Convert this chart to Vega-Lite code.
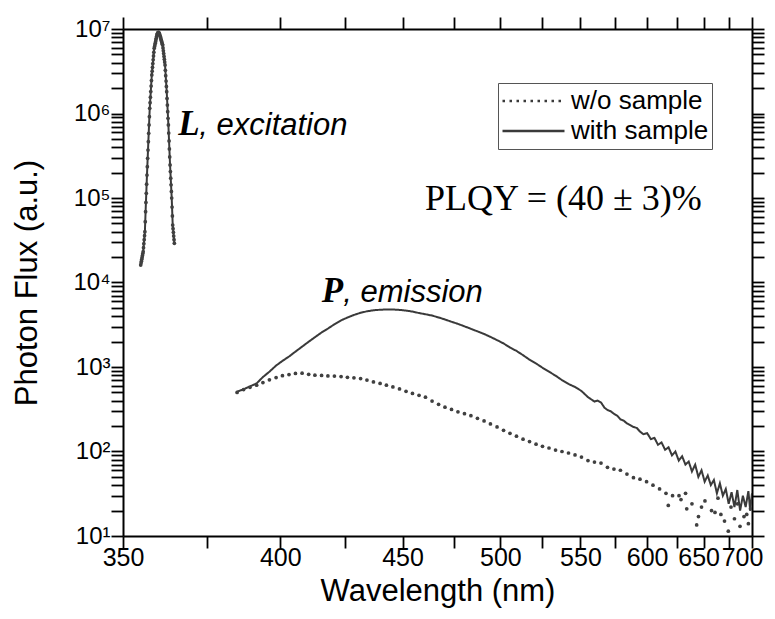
{
  "$schema": "https://vega.github.io/schema/vega-lite/v6.json",
  "width": 629,
  "height": 507,
  "autosize": {"type": "none"},
  "padding": {"left": 123, "top": 29, "right": 23, "bottom": 83},
  "background": "white",
  "config": {
    "view": {"stroke": null},
    "axis": {"grid": false, "domainColor": "black", "domainWidth": 2, "tickColor": "black", "tickWidth": 1.8, "labelFont": "Liberation Sans", "titleFont": "Liberation Sans", "labelColor": "black", "titleColor": "black", "titleFontWeight": "normal"}
  },
  "datasets": {
    "withs": [
      {"g":"exc","l":355.0,"f":16100},{"g":"exc","l":355.1,"f":17000},{"g":"exc","l":355.2,"f":17860},{"g":"exc","l":355.3,"f":18840},{"g":"exc","l":355.4,"f":19820},{"g":"exc","l":355.5,"f":20890},{"g":"exc","l":355.6,"f":21980},{"g":"exc","l":355.7,"f":23170},{"g":"exc","l":355.8,"f":25820},{"g":"exc","l":355.9,"f":28770},{"g":"exc","l":356.0,"f":32140},{"g":"exc","l":356.1,"f":35810},{"g":"exc","l":356.2,"f":39900},{"g":"exc","l":356.3,"f":52480},{"g":"exc","l":356.4,"f":68870},{"g":"exc","l":356.5,"f":88510},{"g":"exc","l":356.6,"f":113500},{"g":"exc","l":356.7,"f":145900},{"g":"exc","l":356.8,"f":187100},{"g":"exc","l":356.9,"f":235000},{"g":"exc","l":357.0,"f":295100},{"g":"exc","l":357.1,"f":369800},{"g":"exc","l":357.2,"f":464500},{"g":"exc","l":357.3,"f":583400},{"g":"exc","l":357.4,"f":731100},{"g":"exc","l":357.5,"f":918300},{"g":"exc","l":357.6,"f":1153000},{"g":"exc","l":357.7,"f":1343000},{"g":"exc","l":357.8,"f":1560000},{"g":"exc","l":357.9,"f":1816000},{"g":"exc","l":358.0,"f":2113000},{"g":"exc","l":358.1,"f":2455000},{"g":"exc","l":358.2,"f":2858000},{"g":"exc","l":358.3,"f":3170000},{"g":"exc","l":358.4,"f":3516000},{"g":"exc","l":358.5,"f":3899000},{"g":"exc","l":358.6,"f":4325000},{"g":"exc","l":358.7,"f":4797000},{"g":"exc","l":358.8,"f":5321000},{"g":"exc","l":358.9,"f":5902000},{"g":"exc","l":359.0,"f":6166000},{"g":"exc","l":359.1,"f":6457000},{"g":"exc","l":359.2,"f":6761000},{"g":"exc","l":359.3,"f":7079000},{"g":"exc","l":359.4,"f":7413000},{"g":"exc","l":359.5,"f":7762000},{"g":"exc","l":359.6,"f":8128000},{"g":"exc","l":359.7,"f":8511000},{"g":"exc","l":359.8,"f":8710000},{"g":"exc","l":359.9,"f":8913000},{"g":"exc","l":360.0,"f":9016000},{"g":"exc","l":360.1,"f":9120000},{"g":"exc","l":360.2,"f":9120000},{"g":"exc","l":360.3,"f":9016000},{"g":"exc","l":360.4,"f":8810000},{"g":"exc","l":360.5,"f":8610000},{"g":"exc","l":360.6,"f":8318000},{"g":"exc","l":360.7,"f":8128000},{"g":"exc","l":360.8,"f":7852000},{"g":"exc","l":360.9,"f":7586000},{"g":"exc","l":361.0,"f":7328000},{"g":"exc","l":361.1,"f":7079000},{"g":"exc","l":361.2,"f":6839000},{"g":"exc","l":361.3,"f":6607000},{"g":"exc","l":361.4,"f":6457000},{"g":"exc","l":361.5,"f":5970000},{"g":"exc","l":361.6,"f":5521000},{"g":"exc","l":361.7,"f":5117000},{"g":"exc","l":361.8,"f":4732000},{"g":"exc","l":361.9,"f":4375000},{"g":"exc","l":362.0,"f":4055000},{"g":"exc","l":362.1,"f":3750000},{"g":"exc","l":362.2,"f":3243000},{"g":"exc","l":362.3,"f":2799000},{"g":"exc","l":362.4,"f":2421000},{"g":"exc","l":362.5,"f":2094000},{"g":"exc","l":362.6,"f":1811000},{"g":"exc","l":362.7,"f":1510000},{"g":"exc","l":362.8,"f":1259000},{"g":"exc","l":362.9,"f":1052000},{"g":"exc","l":363.0,"f":877000},{"g":"exc","l":363.1,"f":731100},{"g":"exc","l":363.2,"f":587500},{"g":"exc","l":363.3,"f":473200},{"g":"exc","l":363.4,"f":380200},{"g":"exc","l":363.5,"f":306200},{"g":"exc","l":363.6,"f":246000},{"g":"exc","l":363.7,"f":205600},{"g":"exc","l":363.8,"f":171800},{"g":"exc","l":363.9,"f":143200},{"g":"exc","l":364.0,"f":119700},{"g":"exc","l":364.1,"f":100000},{"g":"exc","l":364.2,"f":78160},{"g":"exc","l":364.3,"f":61240},{"g":"exc","l":364.4,"f":47860},{"g":"exc","l":364.5,"f":43350},{"g":"exc","l":364.6,"f":39260},{"g":"exc","l":364.7,"f":35480},{"g":"exc","l":364.8,"f":32140},{"g":"exc","l":364.9,"f":29110},
      {"g":"em","l":384.9,"f":510},{"g":"em","l":387.1,"f":545},{"g":"em","l":389.3,"f":590},{"g":"em","l":391.6,"f":640},{"g":"em","l":393.8,"f":760},{"g":"em","l":396.1,"f":880},{"g":"em","l":398.5,"f":1040},{"g":"em","l":400.8,"f":1180},{"g":"em","l":403.2,"f":1330},{"g":"em","l":405.6,"f":1520},{"g":"em","l":408.1,"f":1740},{"g":"em","l":410.6,"f":1990},{"g":"em","l":413.0,"f":2250},{"g":"em","l":415.6,"f":2560},{"g":"em","l":418.1,"f":2850},{"g":"em","l":420.7,"f":3200},{"g":"em","l":423.4,"f":3560},{"g":"em","l":426.0,"f":3850},{"g":"em","l":428.7,"f":4130},{"g":"em","l":431.5,"f":4380},{"g":"em","l":434.2,"f":4560},{"g":"em","l":437.0,"f":4690},{"g":"em","l":439.9,"f":4760},{"g":"em","l":442.7,"f":4800},{"g":"em","l":445.6,"f":4790},{"g":"em","l":448.6,"f":4740},{"g":"em","l":451.6,"f":4650},{"g":"em","l":454.6,"f":4530},{"g":"em","l":457.7,"f":4350},{"g":"em","l":460.8,"f":4210},{"g":"em","l":464.0,"f":4060},{"g":"em","l":467.2,"f":3860},{"g":"em","l":470.4,"f":3650},{"g":"em","l":473.7,"f":3430},{"g":"em","l":477.0,"f":3240},{"g":"em","l":480.4,"f":3030},{"g":"em","l":483.8,"f":2830},{"g":"em","l":487.3,"f":2640},{"g":"em","l":490.9,"f":2460},{"g":"em","l":494.4,"f":2270},{"g":"em","l":498.1,"f":2080},{"g":"em","l":501.8,"f":1900},{"g":"em","l":505.5,"f":1700},{"g":"em","l":509.3,"f":1550},{"g":"em","l":513.2,"f":1380},{"g":"em","l":517.1,"f":1220},{"g":"em","l":521.1,"f":1100},{"g":"em","l":525.1,"f":980},{"g":"em","l":529.2,"f":880},{"g":"em","l":533.4,"f":790},{"g":"em","l":537.6,"f":700},{"g":"em","l":541.9,"f":630},{"g":"em","l":546.3,"f":580},{"g":"em","l":550.7,"f":520},{"g":"em","l":555.2,"f":440},{"g":"em","l":559.8,"f":390},{"g":"em","l":562.0,"f":400},{"g":"em","l":564.5,"f":380},{"g":"em","l":567.0,"f":330},{"g":"em","l":569.2,"f":310},{"g":"em","l":571.5,"f":300},{"g":"em","l":574.0,"f":280},{"g":"em","l":576.5,"f":265},{"g":"em","l":578.9,"f":240},{"g":"em","l":581.4,"f":232},{"g":"em","l":583.9,"f":215},{"g":"em","l":586.5,"f":205},{"g":"em","l":589.0,"f":195},{"g":"em","l":591.6,"f":190},{"g":"em","l":594.2,"f":172},{"g":"em","l":597,"f":160},{"g":"em","l":600,"f":165},{"g":"em","l":603,"f":140},{"g":"em","l":606,"f":145},{"g":"em","l":609,"f":120},{"g":"em","l":612,"f":128},{"g":"em","l":615,"f":105},{"g":"em","l":618,"f":112},{"g":"em","l":621,"f":90},{"g":"em","l":624,"f":100},{"g":"em","l":627,"f":78},{"g":"em","l":630,"f":88},{"g":"em","l":633,"f":70},{"g":"em","l":636,"f":76},{"g":"em","l":639,"f":58},{"g":"em","l":642,"f":70},{"g":"em","l":645,"f":50},{"g":"em","l":648,"f":60},{"g":"em","l":651,"f":44},{"g":"em","l":654,"f":52},{"g":"em","l":657,"f":40},{"g":"em","l":660,"f":46},{"g":"em","l":663,"f":32},{"g":"em","l":666,"f":42},{"g":"em","l":669,"f":30},{"g":"em","l":672,"f":36},{"g":"em","l":675,"f":24},{"g":"em","l":678,"f":33},{"g":"em","l":681,"f":22},{"g":"em","l":684,"f":35},{"g":"em","l":687,"f":20},{"g":"em","l":690,"f":30},{"g":"em","l":693,"f":22},{"g":"em","l":696,"f":34},{"g":"em","l":698,"f":20},{"g":"em","l":700,"f":32}
    ],
    "wo": [
      {"l":355.0,"f":16100},{"l":355.1,"f":17000},{"l":355.2,"f":17860},{"l":355.3,"f":18840},{"l":355.4,"f":19820},{"l":355.5,"f":20890},{"l":355.6,"f":21980},{"l":355.7,"f":23170},{"l":355.8,"f":25820},{"l":355.9,"f":28770},{"l":356.0,"f":32140},{"l":356.1,"f":35810},{"l":356.2,"f":39900},{"l":356.3,"f":52480},{"l":356.4,"f":68870},{"l":356.5,"f":88510},{"l":356.6,"f":113500},{"l":356.7,"f":145900},{"l":356.8,"f":187100},{"l":356.9,"f":235000},{"l":357.0,"f":295100},{"l":357.1,"f":369800},{"l":357.2,"f":464500},{"l":357.3,"f":583400},{"l":357.4,"f":731100},{"l":357.5,"f":918300},{"l":357.6,"f":1153000},{"l":357.7,"f":1343000},{"l":357.8,"f":1560000},{"l":357.9,"f":1816000},{"l":358.0,"f":2113000},{"l":358.1,"f":2455000},{"l":358.2,"f":2858000},{"l":358.3,"f":3170000},{"l":358.4,"f":3516000},{"l":358.5,"f":3899000},{"l":358.6,"f":4325000},{"l":358.7,"f":4797000},{"l":358.8,"f":5321000},{"l":358.9,"f":5902000},{"l":359.0,"f":6166000},{"l":359.1,"f":6457000},{"l":359.2,"f":6761000},{"l":359.3,"f":7079000},{"l":359.4,"f":7413000},{"l":359.5,"f":7762000},{"l":359.6,"f":8128000},{"l":359.7,"f":8511000},{"l":359.8,"f":8710000},{"l":359.9,"f":8913000},{"l":360.0,"f":9016000},{"l":360.1,"f":9120000},{"l":360.2,"f":9120000},{"l":360.3,"f":9016000},{"l":360.4,"f":8810000},{"l":360.5,"f":8610000},{"l":360.6,"f":8318000},{"l":360.7,"f":8128000},{"l":360.8,"f":7852000},{"l":360.9,"f":7586000},{"l":361.0,"f":7328000},{"l":361.1,"f":7079000},{"l":361.2,"f":6839000},{"l":361.3,"f":6607000},{"l":361.4,"f":6457000},{"l":361.5,"f":5970000},{"l":361.6,"f":5521000},{"l":361.7,"f":5117000},{"l":361.8,"f":4732000},{"l":361.9,"f":4375000},{"l":362.0,"f":4055000},{"l":362.1,"f":3750000},{"l":362.2,"f":3243000},{"l":362.3,"f":2799000},{"l":362.4,"f":2421000},{"l":362.5,"f":2094000},{"l":362.6,"f":1811000},{"l":362.7,"f":1510000},{"l":362.8,"f":1259000},{"l":362.9,"f":1052000},{"l":363.0,"f":877000},{"l":363.1,"f":731100},{"l":363.2,"f":587500},{"l":363.3,"f":473200},{"l":363.4,"f":380200},{"l":363.5,"f":306200},{"l":363.6,"f":246000},{"l":363.7,"f":205600},{"l":363.8,"f":171800},{"l":363.9,"f":143200},{"l":364.0,"f":119700},{"l":364.1,"f":100000},{"l":364.2,"f":78160},{"l":364.3,"f":61240},{"l":364.4,"f":47860},{"l":364.5,"f":43350},{"l":364.6,"f":39260},{"l":364.7,"f":35480},{"l":364.8,"f":32140},{"l":364.9,"f":29110},
      {"l":384.9,"f":500},{"l":387.1,"f":540},{"l":389.3,"f":575},{"l":391.6,"f":610},{"l":393.8,"f":655},{"l":396.1,"f":705},{"l":398.5,"f":750},{"l":400.8,"f":790},{"l":403.2,"f":815},{"l":405.6,"f":840},{"l":408.1,"f":845},{"l":410.6,"f":820},{"l":413.0,"f":800},{"l":415.6,"f":795},{"l":418.1,"f":785},{"l":420.7,"f":780},{"l":423.4,"f":770},{"l":426.0,"f":755},{"l":428.7,"f":745},{"l":431.5,"f":730},{"l":434.2,"f":700},{"l":437.0,"f":665},{"l":439.9,"f":640},{"l":442.7,"f":610},{"l":445.6,"f":580},{"l":448.6,"f":550},{"l":451.6,"f":515},{"l":454.6,"f":487},{"l":457.7,"f":462},{"l":460.8,"f":440},{"l":464.0,"f":395},{"l":467.2,"f":362},{"l":470.4,"f":335},{"l":473.7,"f":315},{"l":477.0,"f":295},{"l":480.4,"f":280},{"l":483.8,"f":265},{"l":487.3,"f":247},{"l":490.9,"f":230},{"l":494.4,"f":212},{"l":498.1,"f":195},{"l":501.8,"f":178},{"l":505.5,"f":164},{"l":509.3,"f":152},{"l":513.2,"f":140},{"l":517.1,"f":131},{"l":521.1,"f":122},{"l":525.1,"f":115},{"l":529.2,"f":110},{"l":533.4,"f":104},{"l":537.6,"f":100},{"l":541.9,"f":96},{"l":546.3,"f":91},{"l":550.7,"f":86},{"l":555.2,"f":78},{"l":559.8,"f":75},{"l":564.5,"f":73},{"l":569.2,"f":65},{"l":574.0,"f":62},{"l":578.9,"f":60},{"l":583.9,"f":54},{"l":589.0,"f":49},{"l":594.2,"f":47},{"l":599.5,"f":44},{"l":604.8,"f":40},{"l":610.3,"f":36},{"l":615.8,"f":32},{"l":621.5,"f":30},{"l":627.2,"f":30},{"l":633.1,"f":32},{"l":639.0,"f":24},{"l":645.1,"f":17},{"l":651.3,"f":26},{"l":657.7,"f":20},{"l":664.1,"f":28},{"l":670.7,"f":15},{"l":677.4,"f":22},{"l":684.2,"f":24},{"l":691.2,"f":17},{"l":698.3,"f":21},
      {"l":617.8,"f":23},{"l":634.2,"f":21},{"l":643.4,"f":13.5},{"l":661.1,"f":19},{"l":674.6,"f":11.4},{"l":686.9,"f":13},{"l":694.2,"f":18},{"l":629.0,"f":27},{"l":648.0,"f":22},{"l":667.0,"f":18},{"l":681.0,"f":16},{"l":696.0,"f":14}
    ],
    "bold": [{"t":"L","l":366.1,"f":556700},{"t":"P","l":415.7,"f":5930}],
    "ital": [{"t":", excitation","l":372.6,"f":556700},{"t":", emission","l":424.3,"f":5930}],
    "plqy": [{"t":"PLQY = (40 ± 3)%","l":460.6,"f":72100}]
  },
  "layer": [
    {
      "data": {"name": "withs"},
      "mark": {"type": "line", "color": "#3a3a3a", "strokeWidth": 2, "clip": true},
      "encoding": {
        "x": {"field": "l", "type": "quantitative",
          "scale": {"type": "pow", "exponent": -1, "domain": [350, 700], "zero": false, "nice": false},
          "axis": {"values": [350,375,400,425,450,475,500,525,550,575,600,625,650,675,700],
            "labelExpr": "datum.value % 50 === 0 ? datum.label : ''",
            "tickSize": 12, "labelPadding": -3, "labelFontSize": 25, "labelFlush": false, "labelOverlap": false,
            "labelOffset": {"condition": [{"test": "datum.value === 700", "value": -10}, {"test": "datum.value === 650", "value": -5}], "value": 0},
            "title": "Wavelength (nm)", "titleFontSize": 31, "titleBaseline": "alphabetic", "titleY": 64,
            "encode": {"ticks": {"update": {"y2": {"signal": "datum.value % 50 === 0 ? -12 : -6"}}}}}
        },
        "y": {"field": "f", "type": "quantitative",
          "scale": {"type": "log", "domain": [10, 10000000], "nice": false},
          "axis": {"values": [10,20,30,40,50,60,70,80,90,100,200,300,400,500,600,700,800,900,1000,2000,3000,4000,5000,6000,7000,8000,9000,10000,20000,30000,40000,50000,60000,70000,80000,90000,100000,200000,300000,400000,500000,600000,700000,800000,900000,1000000,2000000,3000000,4000000,5000000,6000000,7000000,8000000,9000000,10000000],
            "labelExpr": "abs(log(datum.value)/LN10 - round(log(datum.value)/LN10)) < 0.001 ? '10' + ['⁰','¹','²','³','⁴','⁵','⁶','⁷'][round(log(datum.value)/LN10)] : ''",
            "tickSize": 12, "labelPadding": 1, "labelFontSize": 24, "labelOverlap": false, "labelFlush": false,
            "title": "Photon Flux (a.u.)", "titleFontSize": 31, "titleX": -80,
            "encode": {"ticks": {"update": {"x2": {"signal": "abs(log(datum.value)/LN10 - round(log(datum.value)/LN10)) < 0.001 ? 12 : 6"}}}}}
        },
        "detail": {"field": "g"},
        "strokeDash": {"datum": "with sample", "type": "nominal",
          "scale": {"domain": ["w/o sample", "with sample"], "range": [[2.5, 4.5], [1, 0]]},
          "legend": {"title": null, "orient": "none", "legendX": 375, "legendY": 54, "direction": "vertical",
            "strokeColor": "#555555", "fillColor": "white", "padding": 3, "clipHeight": 30, "rowPadding": 0,
            "symbolType": "stroke", "symbolSize": 3844, "symbolStrokeWidth": 2.5, "symbolStrokeColor": "#3a3a3a",
            "labelFont": "Liberation Sans", "labelFontSize": 26, "labelColor": "black", "labelOffset": 5, "labelLimit": 300}
        }
      }
    },
    {
      "data": {"name": "wo"},
      "mark": {"type": "circle", "size": 14, "color": "#404040", "opacity": 1, "clip": true},
      "encoding": {
        "x": {"field": "l", "type": "quantitative",
          "scale": {"type": "pow", "exponent": -1, "domain": [350, 700], "zero": false, "nice": false},
          "axis": {"orient": "top", "values": [350,375,400,425,450,475,500,525,550,575,600,625,650,675,700], "labels": false, "title": null, "tickSize": 12,
            "encode": {"ticks": {"update": {"y2": {"signal": "datum.value % 50 === 0 ? 12 : 6"}}}}}
        },
        "y": {"field": "f", "type": "quantitative",
          "scale": {"type": "log", "domain": [10, 10000000], "nice": false},
          "axis": {"orient": "right", "values": [10,20,30,40,50,60,70,80,90,100,200,300,400,500,600,700,800,900,1000,2000,3000,4000,5000,6000,7000,8000,9000,10000,20000,30000,40000,50000,60000,70000,80000,90000,100000,200000,300000,400000,500000,600000,700000,800000,900000,1000000,2000000,3000000,4000000,5000000,6000000,7000000,8000000,9000000,10000000],
            "labels": false, "title": null, "tickSize": 12,
            "encode": {"ticks": {"update": {"x2": {"signal": "abs(log(datum.value)/LN10 - round(log(datum.value)/LN10)) < 0.001 ? -12 : -6"}}}}}
        }
      }
    },
    {
      "data": {"name": "bold"},
      "mark": {"type": "text", "font": "Liberation Serif", "fontStyle": "italic", "fontWeight": "bold", "fontSize": 35, "align": "left", "baseline": "alphabetic", "color": "black"},
      "encoding": {
        "x": {"field": "l", "type": "quantitative", "scale": {"type": "pow", "exponent": -1, "domain": [350, 700], "zero": false, "nice": false}, "axis": null},
        "y": {"field": "f", "type": "quantitative", "scale": {"type": "log", "domain": [10, 10000000], "nice": false}, "axis": null},
        "text": {"field": "t"}
      }
    },
    {
      "data": {"name": "ital"},
      "mark": {"type": "text", "font": "Liberation Sans", "fontStyle": "italic", "fontSize": 31, "align": "left", "baseline": "alphabetic", "color": "black"},
      "encoding": {
        "x": {"field": "l", "type": "quantitative", "scale": {"type": "pow", "exponent": -1, "domain": [350, 700], "zero": false, "nice": false}, "axis": null},
        "y": {"field": "f", "type": "quantitative", "scale": {"type": "log", "domain": [10, 10000000], "nice": false}, "axis": null},
        "text": {"field": "t"}
      }
    },
    {
      "data": {"name": "plqy"},
      "mark": {"type": "text", "font": "Liberation Serif", "fontSize": 36, "align": "left", "baseline": "alphabetic", "color": "black"},
      "encoding": {
        "x": {"field": "l", "type": "quantitative", "scale": {"type": "pow", "exponent": -1, "domain": [350, 700], "zero": false, "nice": false}, "axis": null},
        "y": {"field": "f", "type": "quantitative", "scale": {"type": "log", "domain": [10, 10000000], "nice": false}, "axis": null},
        "text": {"field": "t"}
      }
    }
  ],
  "resolve": {"axis": {"x": "independent", "y": "independent"}}
}
